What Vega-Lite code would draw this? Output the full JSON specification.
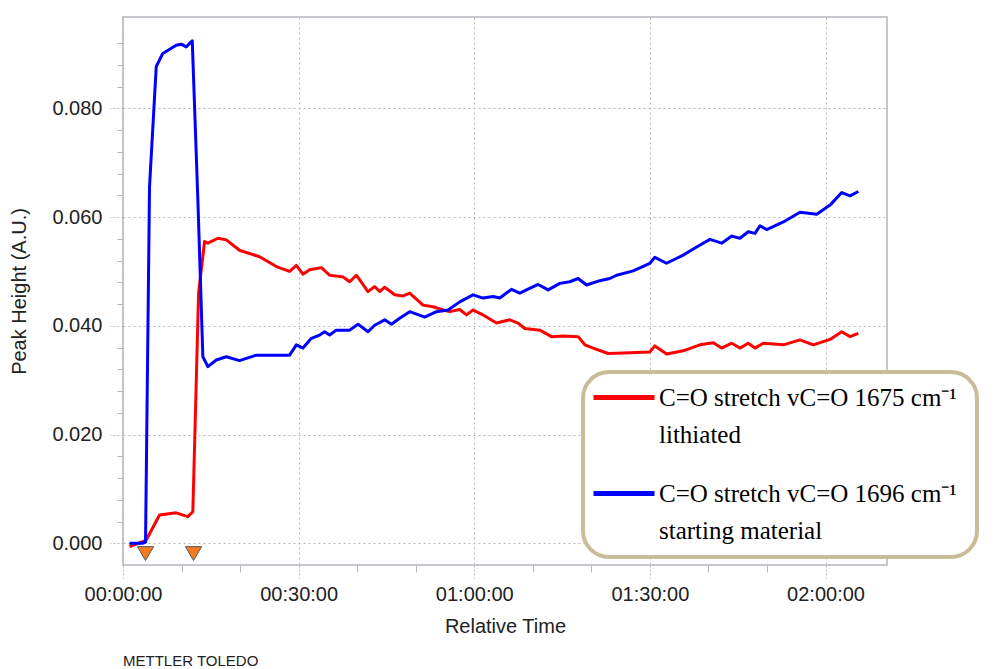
{
  "$schema": "https://vega.github.io/schema/vega-lite/v6.json",
  "width": 764,
  "height": 548,
  "autosize": "none",
  "padding": {"left": 123, "top": 17, "right": 111, "bottom": 104},
  "background": "white",
  "config": {
    "view": {"stroke": "#c4c8cc", "strokeWidth": 2},
    "style": {"guide-label": {"lineHeight": 37}},
    "legend": {"strokeWidth": 4},
    "axis": {"labelOverlap": false}
  },
  "title": {
    "text": "METTLER TOLEDO",
    "orient": "bottom",
    "anchor": "start",
    "frame": "group",
    "font": "Liberation Sans",
    "fontSize": 15,
    "fontWeight": "normal",
    "color": "#222222",
    "offset": 18
  },
  "datasets": {
    "curves": [
      {"t": 1.11, "v": -0.0006, "s": "lithiated"},
      {"t": 3.38, "v": 0.0003, "s": "lithiated"},
      {"t": 3.97, "v": 0.0006, "s": "lithiated"},
      {"t": 6.24, "v": 0.0052, "s": "lithiated"},
      {"t": 9.09, "v": 0.0056, "s": "lithiated"},
      {"t": 11.08, "v": 0.0049, "s": "lithiated"},
      {"t": 11.93, "v": 0.0058, "s": "lithiated"},
      {"t": 12.91, "v": 0.046, "s": "lithiated"},
      {"t": 13.93, "v": 0.0555, "s": "lithiated"},
      {"t": 14.5, "v": 0.0552, "s": "lithiated"},
      {"t": 16.21, "v": 0.0561, "s": "lithiated"},
      {"t": 17.64, "v": 0.0558, "s": "lithiated"},
      {"t": 19.91, "v": 0.0539, "s": "lithiated"},
      {"t": 23.33, "v": 0.0527, "s": "lithiated"},
      {"t": 26.19, "v": 0.0509, "s": "lithiated"},
      {"t": 28.46, "v": 0.05, "s": "lithiated"},
      {"t": 29.61, "v": 0.0511, "s": "lithiated"},
      {"t": 30.74, "v": 0.0495, "s": "lithiated"},
      {"t": 31.88, "v": 0.0503, "s": "lithiated"},
      {"t": 33.88, "v": 0.0507, "s": "lithiated"},
      {"t": 35.3, "v": 0.0493, "s": "lithiated"},
      {"t": 37.57, "v": 0.049, "s": "lithiated"},
      {"t": 38.72, "v": 0.0481, "s": "lithiated"},
      {"t": 39.86, "v": 0.0493, "s": "lithiated"},
      {"t": 41.85, "v": 0.0463, "s": "lithiated"},
      {"t": 42.99, "v": 0.0472, "s": "lithiated"},
      {"t": 43.85, "v": 0.0463, "s": "lithiated"},
      {"t": 44.7, "v": 0.0471, "s": "lithiated"},
      {"t": 46.41, "v": 0.0457, "s": "lithiated"},
      {"t": 47.83, "v": 0.0455, "s": "lithiated"},
      {"t": 48.97, "v": 0.046, "s": "lithiated"},
      {"t": 51.25, "v": 0.0438, "s": "lithiated"},
      {"t": 52.96, "v": 0.0435, "s": "lithiated"},
      {"t": 54.67, "v": 0.0429, "s": "lithiated"},
      {"t": 55.81, "v": 0.0426, "s": "lithiated"},
      {"t": 57.52, "v": 0.043, "s": "lithiated"},
      {"t": 58.67, "v": 0.042, "s": "lithiated"},
      {"t": 59.79, "v": 0.0429, "s": "lithiated"},
      {"t": 61.5, "v": 0.042, "s": "lithiated"},
      {"t": 63.79, "v": 0.0405, "s": "lithiated"},
      {"t": 66.07, "v": 0.0411, "s": "lithiated"},
      {"t": 67.49, "v": 0.0405, "s": "lithiated"},
      {"t": 68.63, "v": 0.0395, "s": "lithiated"},
      {"t": 71.2, "v": 0.0392, "s": "lithiated"},
      {"t": 73.2, "v": 0.038, "s": "lithiated"},
      {"t": 75.18, "v": 0.0381, "s": "lithiated"},
      {"t": 77.74, "v": 0.038, "s": "lithiated"},
      {"t": 78.89, "v": 0.0365, "s": "lithiated"},
      {"t": 80.31, "v": 0.0359, "s": "lithiated"},
      {"t": 82.87, "v": 0.0349, "s": "lithiated"},
      {"t": 85.44, "v": 0.035, "s": "lithiated"},
      {"t": 90.0, "v": 0.0352, "s": "lithiated"},
      {"t": 90.85, "v": 0.0363, "s": "lithiated"},
      {"t": 92.85, "v": 0.0348, "s": "lithiated"},
      {"t": 95.69, "v": 0.0354, "s": "lithiated"},
      {"t": 98.55, "v": 0.0365, "s": "lithiated"},
      {"t": 100.82, "v": 0.0369, "s": "lithiated"},
      {"t": 102.26, "v": 0.0359, "s": "lithiated"},
      {"t": 103.97, "v": 0.0368, "s": "lithiated"},
      {"t": 105.38, "v": 0.0359, "s": "lithiated"},
      {"t": 106.8, "v": 0.0368, "s": "lithiated"},
      {"t": 107.95, "v": 0.0359, "s": "lithiated"},
      {"t": 109.37, "v": 0.0368, "s": "lithiated"},
      {"t": 112.79, "v": 0.0365, "s": "lithiated"},
      {"t": 115.64, "v": 0.0374, "s": "lithiated"},
      {"t": 117.91, "v": 0.0365, "s": "lithiated"},
      {"t": 120.77, "v": 0.0375, "s": "lithiated"},
      {"t": 122.77, "v": 0.0389, "s": "lithiated"},
      {"t": 124.19, "v": 0.038, "s": "lithiated"},
      {"t": 125.61, "v": 0.0386, "s": "lithiated"},
      {"t": 1.11, "v": 0.0, "s": "starting material"},
      {"t": 3.33, "v": 0.0, "s": "starting material"},
      {"t": 3.85, "v": 0.0002, "s": "starting material"},
      {"t": 4.53, "v": 0.0656, "s": "starting material"},
      {"t": 5.68, "v": 0.0877, "s": "starting material"},
      {"t": 6.8, "v": 0.0901, "s": "starting material"},
      {"t": 9.09, "v": 0.0916, "s": "starting material"},
      {"t": 9.95, "v": 0.0918, "s": "starting material"},
      {"t": 10.8, "v": 0.0913, "s": "starting material"},
      {"t": 11.83, "v": 0.0924, "s": "starting material"},
      {"t": 12.79, "v": 0.0631, "s": "starting material"},
      {"t": 13.64, "v": 0.0343, "s": "starting material"},
      {"t": 14.5, "v": 0.0325, "s": "starting material"},
      {"t": 15.93, "v": 0.0337, "s": "starting material"},
      {"t": 17.64, "v": 0.0343, "s": "starting material"},
      {"t": 19.91, "v": 0.0336, "s": "starting material"},
      {"t": 22.77, "v": 0.0346, "s": "starting material"},
      {"t": 28.46, "v": 0.0346, "s": "starting material"},
      {"t": 29.61, "v": 0.0365, "s": "starting material"},
      {"t": 30.74, "v": 0.0359, "s": "starting material"},
      {"t": 32.17, "v": 0.0377, "s": "starting material"},
      {"t": 33.59, "v": 0.0383, "s": "starting material"},
      {"t": 34.44, "v": 0.0389, "s": "starting material"},
      {"t": 35.3, "v": 0.0383, "s": "starting material"},
      {"t": 36.44, "v": 0.0392, "s": "starting material"},
      {"t": 38.72, "v": 0.0392, "s": "starting material"},
      {"t": 40.14, "v": 0.0403, "s": "starting material"},
      {"t": 41.85, "v": 0.0389, "s": "starting material"},
      {"t": 42.99, "v": 0.0401, "s": "starting material"},
      {"t": 44.7, "v": 0.0411, "s": "starting material"},
      {"t": 45.85, "v": 0.0403, "s": "starting material"},
      {"t": 47.26, "v": 0.0414, "s": "starting material"},
      {"t": 48.97, "v": 0.0426, "s": "starting material"},
      {"t": 51.54, "v": 0.0416, "s": "starting material"},
      {"t": 53.54, "v": 0.0426, "s": "starting material"},
      {"t": 55.52, "v": 0.0429, "s": "starting material"},
      {"t": 57.52, "v": 0.0444, "s": "starting material"},
      {"t": 59.79, "v": 0.0457, "s": "starting material"},
      {"t": 61.5, "v": 0.0451, "s": "starting material"},
      {"t": 63.21, "v": 0.0454, "s": "starting material"},
      {"t": 64.36, "v": 0.0451, "s": "starting material"},
      {"t": 66.36, "v": 0.0467, "s": "starting material"},
      {"t": 67.78, "v": 0.046, "s": "starting material"},
      {"t": 68.92, "v": 0.0466, "s": "starting material"},
      {"t": 70.91, "v": 0.0476, "s": "starting material"},
      {"t": 72.62, "v": 0.0466, "s": "starting material"},
      {"t": 74.62, "v": 0.0478, "s": "starting material"},
      {"t": 76.32, "v": 0.0481, "s": "starting material"},
      {"t": 77.74, "v": 0.0487, "s": "starting material"},
      {"t": 79.18, "v": 0.0475, "s": "starting material"},
      {"t": 81.45, "v": 0.0483, "s": "starting material"},
      {"t": 83.16, "v": 0.0487, "s": "starting material"},
      {"t": 84.31, "v": 0.0493, "s": "starting material"},
      {"t": 87.15, "v": 0.0501, "s": "starting material"},
      {"t": 90.0, "v": 0.0515, "s": "starting material"},
      {"t": 90.85, "v": 0.0526, "s": "starting material"},
      {"t": 92.85, "v": 0.0515, "s": "starting material"},
      {"t": 95.69, "v": 0.053, "s": "starting material"},
      {"t": 97.98, "v": 0.0545, "s": "starting material"},
      {"t": 100.26, "v": 0.0559, "s": "starting material"},
      {"t": 102.26, "v": 0.0552, "s": "starting material"},
      {"t": 103.97, "v": 0.0565, "s": "starting material"},
      {"t": 105.38, "v": 0.0561, "s": "starting material"},
      {"t": 106.8, "v": 0.0573, "s": "starting material"},
      {"t": 107.95, "v": 0.057, "s": "starting material"},
      {"t": 108.8, "v": 0.0584, "s": "starting material"},
      {"t": 109.95, "v": 0.0577, "s": "starting material"},
      {"t": 112.79, "v": 0.0591, "s": "starting material"},
      {"t": 115.64, "v": 0.0609, "s": "starting material"},
      {"t": 118.5, "v": 0.0605, "s": "starting material"},
      {"t": 120.77, "v": 0.0622, "s": "starting material"},
      {"t": 122.77, "v": 0.0645, "s": "starting material"},
      {"t": 124.19, "v": 0.0639, "s": "starting material"},
      {"t": 125.61, "v": 0.0647, "s": "starting material"}
    ],
    "events": [
      {"t": 3.85, "v": -0.0019},
      {"t": 12.05, "v": -0.0019}
    ]
  },
  "layer": [
    {
      "data": {"name": "curves"},
      "mark": {"type": "line", "strokeWidth": 3, "strokeJoin": "round"},
      "encoding": {
        "x": {
          "field": "t",
          "type": "quantitative",
          "scale": {"domain": [0, 130.5], "nice": false, "zero": false},
          "axis": {
            "title": "Relative Time",
            "titleFont": "Liberation Sans",
            "titleFontSize": 20,
            "titleFontWeight": "normal",
            "titleColor": "#222222",
            "titlePadding": 12,
            "tickCount": 40,
            "values": [0, 10, 20, 30, 40, 50, 60, 70, 80, 90, 100, 110, 120],
            "labelExpr": "indexof([0, 30, 60, 90, 120], datum.value) >= 0 ? utcFormat(datum.value * 60000, '%H:%M:%S') : ''",
            "labelFont": "Liberation Sans",
            "labelFontSize": 20,
            "labelColor": "#222222",
            "labelPadding": 6,
            "labelFlush": false,
            "labelOverlap": false,
            "domain": false,
            "tickColor": "#b4b8bc",
            "tickWidth": 1,
            "tickSize": {"condition": {"test": "indexof([0, 30, 60, 90, 120], datum.value) >= 0", "value": 13}, "value": 7},
            "tickDash": {"condition": {"test": "indexof([0, 30, 60, 90, 120], datum.value) >= 0", "value": [2, 2]}, "value": []},
            "grid": true,
            "gridColor": "#b8b8b8",
            "gridDash": [2, 3],
            "gridWidth": 1,
            "gridOpacity": {"condition": {"test": "indexof([0, 30, 60, 90, 120], datum.value) >= 0", "value": 1}, "value": 0}
          }
        },
        "y": {
          "field": "v",
          "type": "quantitative",
          "scale": {"domain": [-0.004, 0.0968], "nice": false, "zero": false},
          "axis": {
            "title": "Peak Height (A.U.)",
            "titleFont": "Liberation Sans",
            "titleFontSize": 20,
            "titleFontWeight": "normal",
            "titleColor": "#222222",
            "titlePadding": 22,
            "tickCount": 60,
            "values": [0, 0.004, 0.008, 0.012, 0.016, 0.02, 0.024, 0.028, 0.032, 0.036, 0.04, 0.044, 0.048, 0.052, 0.056, 0.06, 0.064, 0.068, 0.072, 0.076, 0.08, 0.084, 0.088, 0.092],
            "labelExpr": "abs(datum.value * 50 - round(datum.value * 50)) < 0.01 ? format(datum.value, '.3f') : ''",
            "labelFont": "Liberation Sans",
            "labelFontSize": {"condition": {"test": "abs(datum.value * 50 - round(datum.value * 50)) < 0.01", "value": 20}, "value": 1},
            "labelColor": "#222222",
            "labelPadding": 8,
            "labelFlush": false,
            "labelOverlap": false,
            "domain": false,
            "tickColor": "#b4b8bc",
            "tickWidth": 1,
            "tickSize": {"condition": {"test": "abs(datum.value * 50 - round(datum.value * 50)) < 0.01", "value": 13}, "value": 6},
            "tickDash": {"condition": {"test": "abs(datum.value * 50 - round(datum.value * 50)) < 0.01", "value": [2, 2]}, "value": []},
            "grid": true,
            "gridColor": "#b8b8b8",
            "gridDash": [2, 3],
            "gridWidth": 1,
            "gridOpacity": {"condition": {"test": "abs(datum.value * 50 - round(datum.value * 50)) < 0.01", "value": 1}, "value": 0}
          }
        },
        "color": {
          "field": "s",
          "type": "nominal",
          "scale": {"domain": ["lithiated", "starting material"], "range": ["#ff0000", "#0000ff"]},
          "legend": {
            "orient": "none",
            "legendX": 460,
            "legendY": 355,
            "title": null,
            "fillColor": "white",
            "strokeColor": "#c8bd98",
            "cornerRadius": 26,
            "padding": 13,
            "symbolType": "M-1.5,0H4.6",
            "symbolStrokeWidth": 5,
            "symbolSize": 400,
            "labelFont": "Liberation Serif",
            "labelFontSize": 25,
            "labelColor": "#000000",
            "labelBaseline": "middle",
            "labelLimit": 600,
            "labelOffset": 38,
            "rowPadding": 33,
            "labelExpr": "datum.label == 'lithiated' ? ['C=O stretch  vC=O 1675 cm⁻¹', 'lithiated'] : ['C=O stretch vC=O 1696 cm⁻¹', 'starting material']"
          }
        }
      }
    },
    {
      "data": {"name": "events"},
      "mark": {"type": "point", "shape": "triangle-down", "filled": true, "fill": "#f57b20", "stroke": "#5a5a5a", "strokeWidth": 1, "size": 260, "opacity": 1},
      "encoding": {
        "x": {"field": "t", "type": "quantitative"},
        "y": {"field": "v", "type": "quantitative"}
      }
    }
  ]
}
